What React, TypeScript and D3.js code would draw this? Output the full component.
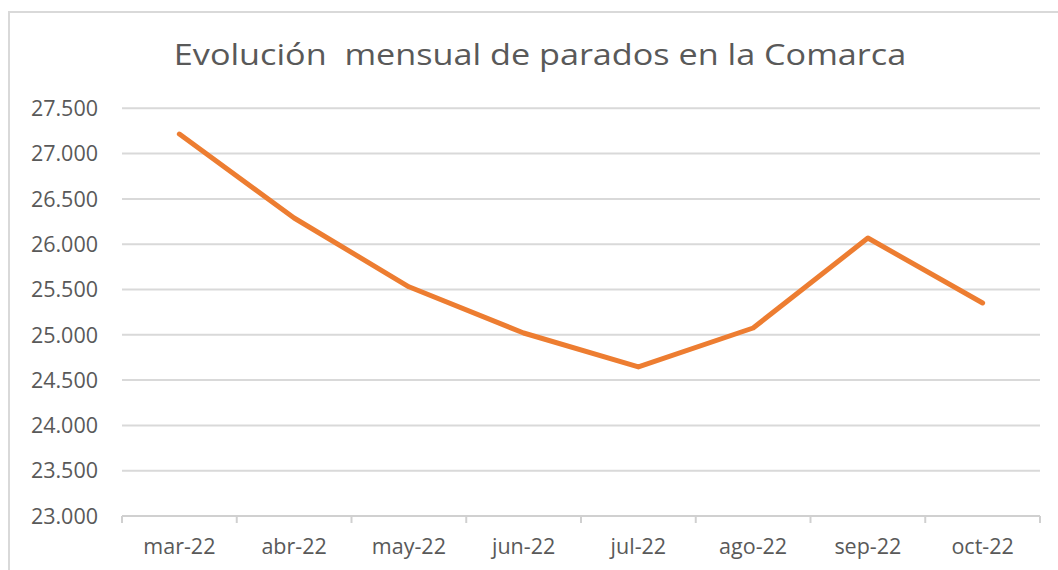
import React from "react";
import * as d3 from "d3";

const categories = ["mar-22", "abr-22", "may-22", "jun-22", "jul-22", "ago-22", "sep-22", "oct-22"];
const parados = [27216, 26289, 25530, 25020, 24645, 25075, 26068, 25351];
const yTicks = [23000, 23500, 24000, 24500, 25000, 25500, 26000, 26500, 27000, 27500];
const title = "Evolución  mensual de parados en la Comarca";

const W = 1058, H = 570;
const left = 122, right = 1040, top = 108.3, bottom = 516;

export default function App() {
  const x = d3.scaleBand<string>().domain(categories).range([left, right]).padding(0);
  const y = d3.scaleLinear().domain([23000, 27500]).range([bottom, top]);
  const fmt = (v: number) => d3.format(",")(v).replace(/,/g, ".");
  const line = d3
    .line<number>()
    .x((_, i) => (x(categories[i]) as number) + x.bandwidth() / 2)
    .y((d) => y(d));
  const font = "'Open Sans', 'Noto Sans', sans-serif";
  return (
    <svg width={W} height={H} style={{ display: "block", position: "absolute", left: 0, top: 0 }}>
      <style>{`body{margin:0}`}</style>
      <rect x={0} y={0} width={W} height={H} fill="#ffffff" />
      <rect x={9} y={12} width={W + 10} height={H + 10} fill="#ffffff" stroke="#d9d9d9" strokeWidth={2} />
      <g transform="translate(540,65) scale(1.2,1)">
        <text x={0} y={0} textAnchor="middle" fontFamily={font} fontSize={28.5} fill="#595959" style={{ whiteSpace: "pre" }}>
          {title}
        </text>
      </g>
      {yTicks.map((t) => (
        <g key={t}>
          {t !== 23000 && (
            <line x1={left} x2={right} y1={y(t)} y2={y(t)} stroke="#d9d9d9" strokeWidth={2} />
          )}
          <text x={98} y={y(t)} dy="0.36em" textAnchor="end" fontFamily={font} fontSize={21.5} fill="#595959">
            {fmt(t)}
          </text>
        </g>
      ))}
      <line x1={left} x2={right} y1={bottom} y2={bottom} stroke="#d0d0d0" strokeWidth={2} />
      {categories.map((c) => (
        <line key={"t" + c} x1={x(c) as number} x2={x(c) as number} y1={bottom} y2={bottom + 7} stroke="#d0d0d0" strokeWidth={2} />
      ))}
      <line x1={right} x2={right} y1={bottom} y2={bottom + 7} stroke="#d0d0d0" strokeWidth={2} />
      {categories.map((c) => (
        <text key={c} x={(x(c) as number) + x.bandwidth() / 2} y={554} textAnchor="middle" fontFamily={font} fontSize={21.5} fill="#595959">
          {c}
        </text>
      ))}
      <path d={line(parados) || ""} fill="none" stroke="#ED7D31" strokeWidth={5} strokeLinejoin="round" strokeLinecap="round" />
    </svg>
  );
}
